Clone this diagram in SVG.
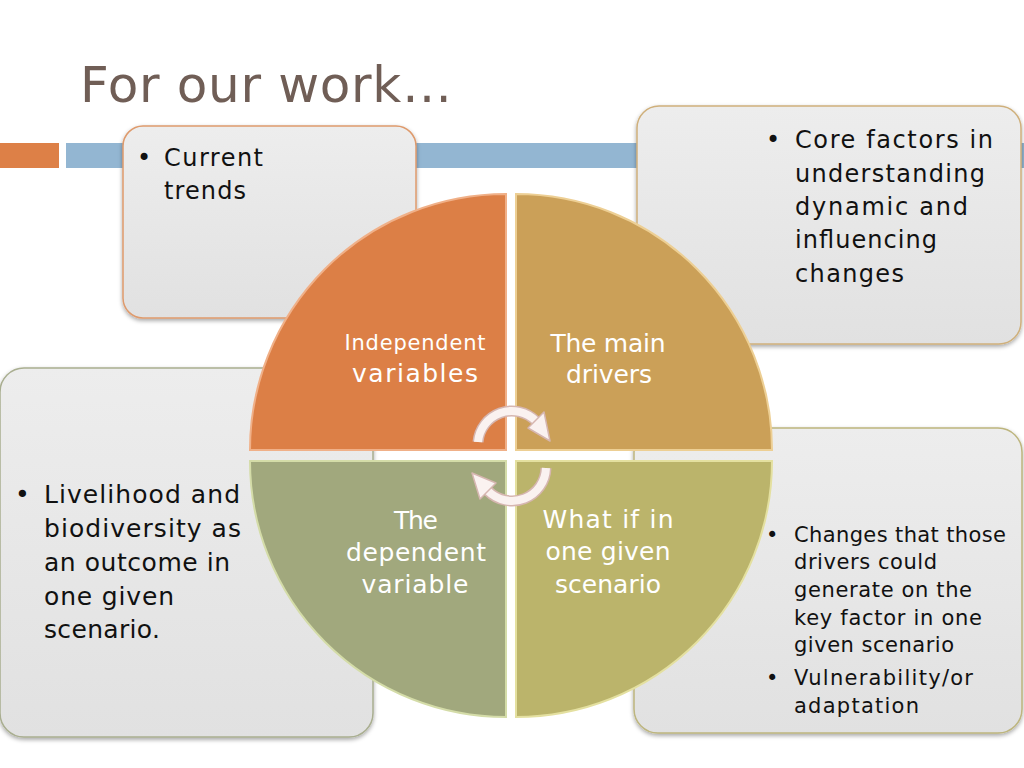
<svg xmlns="http://www.w3.org/2000/svg" width="1024" height="768" viewBox="0 0 1024 768">
  <style>
    .title { font-family: "DejaVu Sans", "Liberation Sans", sans-serif; font-size: 50px; fill: #705E56; }
    .bt { font-family: "DejaVu Sans", "Liberation Sans", sans-serif; fill: #111111; }
    .b24 { font-size: 24px; }
    .b25 { font-size: 25px; }
    .b21 { font-size: 21px; }
    .qt { font-family: "DejaVu Sans", "Liberation Sans", sans-serif; fill: #FFFFFF; text-anchor: middle; font-size: 25px; }
    .qs { font-size: 21px; }
    .box { stroke-width: 1.5; filter: url(#shadow); }
    .arrowShaftOut { fill: none; stroke: #D6B6B0; stroke-width: 11; }
    .arrowShaftIn { fill: none; stroke: #FAF2F0; stroke-width: 8; }
    .arrowHead { fill: #FAF2F0; stroke: #D6B6B0; stroke-width: 1.5; stroke-linejoin: round; }
  </style>
  <defs>
    <linearGradient id="boxFill" x1="0" y1="0" x2="0" y2="1">
      <stop offset="0" stop-color="#EDEDED"/>
      <stop offset="1" stop-color="#E1E1E1"/>
    </linearGradient>
    <filter id="shadow" x="-10%" y="-10%" width="120%" height="120%">
      <feDropShadow dx="0" dy="2" stdDeviation="2" flood-color="#000000" flood-opacity="0.35"/>
    </filter>
  </defs>
  <rect width="1024" height="768" fill="#FFFFFF"/>

  <g id="title">
    <text class="title" x="80" y="102" textLength="372">For our work…</text>
  </g>

  <g id="bars">
    <rect x="0" y="143" width="59" height="25" fill="#DD8047"/>
    <rect x="66" y="143" width="958" height="25" fill="#93B6D2"/>
  </g>

  <g id="box-current-trends">
    <rect class="box" x="123" y="126" width="293" height="192" rx="20" fill="url(#boxFill)" stroke="#DE9A6C"/>
    <text class="bt b24" x="137" y="166">•</text>
    <text class="bt b24" x="164" y="166" textLength="99">Current</text>
    <text class="bt b24" x="164" y="199" textLength="82">trends</text>
  </g>

  <g id="box-core-factors">
    <rect class="box" x="637" y="106" width="384" height="238" rx="22" fill="url(#boxFill)" stroke="#CFB07C"/>
    <text class="bt b24" x="766" y="148">•</text>
    <text class="bt b24" x="795" y="148" textLength="198">Core factors in</text>
    <text class="bt b24" x="795" y="182" textLength="190">understanding</text>
    <text class="bt b24" x="795" y="215" textLength="173">dynamic and</text>
    <text class="bt b24" x="795" y="248" textLength="142">influencing</text>
    <text class="bt b24" x="795" y="282" textLength="109">changes</text>
  </g>

  <g id="box-livelihood">
    <rect class="box" x="0" y="368" width="373" height="369" rx="24" fill="url(#boxFill)" stroke="#A9AE90"/>
    <text class="bt b25" x="15" y="503">•</text>
    <text class="bt b25" x="44" y="503" textLength="196">Livelihood and</text>
    <text class="bt b25" x="44" y="537" textLength="197">biodiversity as</text>
    <text class="bt b25" x="44" y="571" textLength="186">an outcome in</text>
    <text class="bt b25" x="44" y="605" textLength="130">one given</text>
    <text class="bt b25" x="44" y="638" textLength="116">scenario.</text>
  </g>

  <g id="box-changes">
    <rect class="box" x="634" y="428" width="388" height="305" rx="24" fill="url(#boxFill)" stroke="#BDB57E"/>
    <text class="bt b21" x="766" y="542">•</text>
    <text class="bt b21" x="794" y="542" textLength="212">Changes that those</text>
    <text class="bt b21" x="794" y="569" textLength="143">drivers could</text>
    <text class="bt b21" x="794" y="597" textLength="178">generate on the</text>
    <text class="bt b21" x="794" y="625" textLength="188">key factor in one</text>
    <text class="bt b21" x="794" y="652" textLength="160">given scenario</text>
    <text class="bt b21" x="766" y="685">•</text>
    <text class="bt b21" x="794" y="685" textLength="179">Vulnerability/or</text>
    <text class="bt b21" x="794" y="713" textLength="125">adaptation</text>
  </g>

  <g id="quad-independent">
    <path d="M506,450 L250,450 A256,256 0 0 1 506,194 Z" fill="#DC7F46" stroke="#F0B088" stroke-width="2"/>
    <text class="qt qs" x="415" y="350" textLength="141">Independent</text>
    <text class="qt" x="415" y="382" textLength="126">variables</text>
  </g>

  <g id="quad-drivers">
    <path d="M516,450 L516,194 A256,256 0 0 1 772,450 Z" fill="#CBA058" stroke="#EDCF94" stroke-width="2"/>
    <text class="qt" x="608" y="352" textLength="115">The main</text>
    <text class="qt" x="609" y="383" textLength="86">drivers</text>
  </g>

  <g id="quad-dependent">
    <path d="M506,461 L506,717 A256,256 0 0 1 250,461 Z" fill="#A1A87D" stroke="#D4DCA8" stroke-width="2"/>
    <text class="qt" x="416" y="529" textLength="44">The</text>
    <text class="qt" x="416" y="561" textLength="140">dependent</text>
    <text class="qt" x="415" y="593" textLength="107">variable</text>
  </g>

  <g id="quad-whatif">
    <path d="M516,461 L772,461 A256,256 0 0 1 516,717 Z" fill="#BBB46B" stroke="#E4E0A0" stroke-width="2"/>
    <text class="qt" x="608" y="528" textLength="131">What if in</text>
    <text class="qt" x="608" y="560" textLength="125">one given</text>
    <text class="qt" x="608" y="593" textLength="106">scenario</text>
  </g>

  <g id="connectors">
    <g id="arrow-top">
      <path class="arrowShaftOut" d="M478,442 A34,34 0 0 1 536,421"/>
      <path class="arrowShaftIn" d="M478,442 A34,34 0 0 1 536,421"/>
      <polygon class="arrowHead" points="544,412 528,428 550,441"/>
    </g>
    <g id="arrow-bottom">
      <path class="arrowShaftOut" d="M546,468 A34,34 0 0 1 488,491"/>
      <path class="arrowShaftIn" d="M546,468 A34,34 0 0 1 488,491"/>
      <polygon class="arrowHead" points="480,499 496,483 472,473"/>
    </g>
  </g>
</svg>
